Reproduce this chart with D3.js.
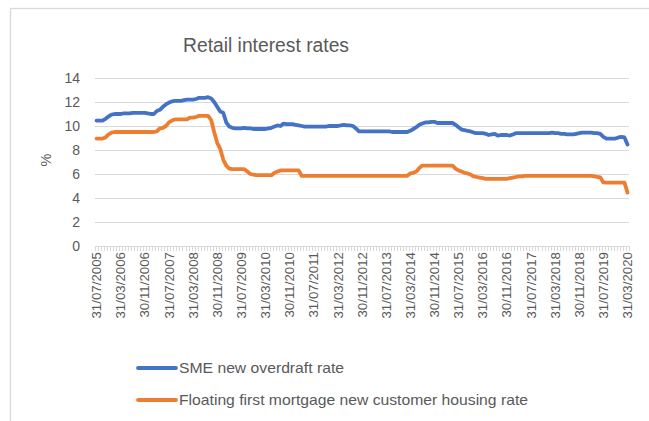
<!DOCTYPE html>
<html><head><meta charset="utf-8">
<script src="https://cdn.jsdelivr.net/npm/d3@7"></script>
<style>html,body{margin:0;padding:0;background:#fff;}svg{display:block;}</style>
</head><body>
<svg id="chart" width="649" height="421"></svg>
<script>
// ---- Data (monthly, 31/07/2005 .. 31/03/2020) ----
const title = "Retail interest rates";
const seriesNames = ["SME new overdraft rate", "Floating first mortgage new customer housing rate"];
const tickLabels = ["31/07/2005","31/03/2006","30/11/2006","31/07/2007","31/03/2008","30/11/2008",
  "31/07/2009","31/03/2010","30/11/2010","31/07/2011","31/03/2012","30/11/2012","31/07/2013",
  "31/03/2014","30/11/2014","31/07/2015","31/03/2016","30/11/2016","31/07/2017","31/03/2018",
  "30/11/2018","31/07/2019","31/03/2020"];
const yTicks = [0,2,4,6,8,10,12,14];

const smeOverdraft = [
  10.45,10.45,10.45,10.6,10.8,10.95,11.0,11.0,11.0,11.05,          // 0-9
  11.05,11.05,11.1,11.1,11.1,11.1,11.1,11.05,11.0,11.0,            // 10-19
  11.25,11.35,11.6,11.8,11.95,12.05,12.1,12.1,12.1,12.15,          // 20-29
  12.2,12.2,12.2,12.25,12.35,12.35,12.35,12.4,12.3,12.0,           // 30-39
  11.6,11.2,11.1,10.3,9.95,9.85,9.8,9.8,9.8,9.85,                  // 40-49
  9.8,9.8,9.75,9.75,9.75,9.75,9.75,9.8,9.85,9.95,                  // 50-59
  10.05,10.0,10.2,10.15,10.15,10.15,10.1,10.05,10.0,9.95,          // 60-69
  9.95,9.95,9.95,9.95,9.95,9.95,9.95,10.0,10.0,10.0,               // 70-79
  10.0,10.05,10.1,10.05,10.05,10.0,9.8,9.55,9.55,9.55,             // 80-89
  9.55,9.55,9.55,9.55,9.55,9.55,9.55,9.55,9.5,9.5,                 // 90-99
  9.5,9.5,9.5,9.5,9.6,9.75,9.9,10.1,10.2,10.3,                     // 100-109
  10.3,10.35,10.35,10.25,10.25,10.25,10.25,10.25,10.25,10.1,       // 110-119
  9.9,9.7,9.65,9.6,9.55,9.45,9.4,9.4,9.4,9.35,                     // 120-129
  9.25,9.3,9.35,9.2,9.25,9.25,9.25,9.2,9.3,9.4,                    // 130-139
  9.4,9.4,9.4,9.4,9.4,9.4,9.4,9.4,9.4,9.4,                         // 140-149
  9.4,9.45,9.4,9.4,9.35,9.35,9.3,9.3,9.3,9.35,                     // 150-159
  9.4,9.45,9.45,9.45,9.45,9.4,9.4,9.35,9.1,8.95,                   // 160-169
  8.95,8.95,8.95,9.05,9.1,9.05,8.45                                // 170-176
];
const floatingMortgage = [
  8.95,8.95,8.95,9.05,9.3,9.45,9.5,9.5,9.5,9.5,                    // 0-9
  9.5,9.5,9.5,9.5,9.5,9.5,9.5,9.5,9.5,9.5,                         // 10-19
  9.55,9.8,9.85,10.0,10.3,10.45,10.55,10.55,10.55,10.55,           // 20-29
  10.55,10.7,10.7,10.75,10.85,10.85,10.85,10.85,10.5,9.5,          // 30-39
  8.6,8.1,7.2,6.7,6.45,6.4,6.4,6.4,6.4,6.4,                        // 40-49
  6.2,6.0,5.95,5.9,5.9,5.9,5.9,5.9,5.9,6.1,                        // 50-59
  6.2,6.3,6.3,6.3,6.3,6.3,6.3,6.3,5.85,5.85,                       // 60-69
  5.85,5.85,5.85,5.85,5.85,5.85,5.85,5.85,5.85,5.85,               // 70-79
  5.85,5.85,5.85,5.85,5.85,5.85,5.85,5.85,5.85,5.85,               // 80-89
  5.85,5.85,5.85,5.85,5.85,5.85,5.85,5.85,5.85,5.85,               // 90-99
  5.85,5.85,5.85,5.85,6.05,6.1,6.2,6.5,6.7,6.7,                    // 100-109
  6.7,6.7,6.7,6.7,6.7,6.7,6.7,6.7,6.7,6.45,                        // 110-119
  6.3,6.2,6.1,6.05,5.95,5.8,5.75,5.7,5.65,5.6,                     // 120-129
  5.6,5.6,5.6,5.6,5.6,5.6,5.6,5.65,5.7,5.75,                       // 130-139
  5.8,5.8,5.85,5.85,5.85,5.85,5.85,5.85,5.85,5.85,                 // 140-149
  5.85,5.85,5.85,5.85,5.85,5.85,5.85,5.85,5.85,5.85,               // 150-159
  5.85,5.85,5.85,5.85,5.85,5.8,5.75,5.72,5.3,5.28,                 // 160-169
  5.28,5.28,5.28,5.28,5.28,5.28,4.45                               // 170-176
];
const colors = ["#4472C4", "#ED7D31"];

// ---- Layout ----
const svg = d3.select("#chart");
const plot = {left: 95, right: 629, top: 78, bottom: 246};
const n = smeOverdraft.length;
const idx = d3.range(n);
const txt = "#595959", grid = "#D9D9D9";
const font = "'Liberation Sans', Arial, sans-serif";

// chart-area border
svg.append("rect").attr("x", 10.5).attr("y", 8.5).attr("width", 700).attr("height", 500)
  .attr("fill", "#fff").attr("stroke", grid).attr("stroke-width", 1.3);

const x = d3.scalePoint().domain(idx).range([plot.left, plot.right]).padding(0.5);
const step = x.step();
const y = d3.scaleLinear().domain([0, 14]).range([plot.bottom, plot.top]);

// gridlines + y labels
const yAxis = d3.axisLeft(y).tickValues(yTicks).tickSize(-(plot.right - plot.left)).tickPadding(15);
const gy = svg.append("g").attr("transform", `translate(${plot.left},0)`).call(yAxis);
gy.select(".domain").remove();
gy.selectAll(".tick line").attr("stroke", grid).attr("stroke-width", 1)
  .attr("opacity", d => d === 0 ? 0 : 1);
gy.selectAll(".tick text").attr("fill", txt).style("font-family", font).style("font-size", "14px");

// x axis line + minor ticks between categories
svg.append("line").attr("x1", plot.left).attr("x2", plot.right)
  .attr("y1", plot.bottom + 0.5).attr("y2", plot.bottom + 0.5).attr("stroke", grid).attr("stroke-width", 1);
const bounds = d3.range(n + 1);
svg.append("g").selectAll("line").data(bounds).join("line")
  .attr("x1", d => Math.round(plot.left + d * step) + 0.5)
  .attr("x2", d => Math.round(plot.left + d * step) + 0.5)
  .attr("y1", plot.bottom).attr("y2", plot.bottom + 5)
  .attr("stroke", grid).attr("stroke-width", 1);

// x tick labels (every 8th category)
const labelIdx = tickLabels.map((_, i) => i * 8);
svg.append("g").selectAll("text").data(labelIdx).join("text")
  .attr("transform", d => `translate(${x(d)},${plot.bottom + 6}) rotate(-90)`)
  .attr("text-anchor", "end").attr("dy", "0.35em")
  .attr("fill", txt).style("font-family", font).style("font-size", "13.3px")
  .text((d, i) => tickLabels[i]);

// y axis title
svg.append("text").attr("transform", "translate(46,160) rotate(-90)")
  .attr("text-anchor", "middle").attr("dy", "0.35em")
  .attr("fill", txt).style("font-family", font).style("font-size", "14.5px").text("%");

// lines
const line = d3.line().x((d, i) => x(i)).y(d => y(d)).curve(d3.curveLinear);
[smeOverdraft, floatingMortgage].forEach((s, k) => {
  svg.append("path").datum(s).attr("d", line).attr("fill", "none")
    .attr("stroke", colors[k]).attr("stroke-width", 3.8)
    .attr("stroke-linejoin", "round").attr("stroke-linecap", "round");
});

// title (narrowed to the reference width)
svg.append("text").attr("x", 183).attr("y", 52)
  .attr("textLength", 166).attr("lengthAdjust", "spacingAndGlyphs")
  .attr("fill", txt).style("font-family", font).style("font-size", "19.5px").text(title);

// legend
const legY = [368, 400];
const legW = [165, 349];
seriesNames.forEach((name, k) => {
  svg.append("line").attr("x1", 138).attr("x2", 176).attr("y1", legY[k]).attr("y2", legY[k])
    .attr("stroke", colors[k]).attr("stroke-width", 3.8).attr("stroke-linecap", "round");
  svg.append("text").attr("x", 179).attr("y", legY[k]).attr("dy", "0.36em")
    .attr("textLength", legW[k]).attr("lengthAdjust", "spacingAndGlyphs")
    .attr("fill", txt).style("font-family", font).style("font-size", "14.5px").text(name);
});
</script>
</body></html>
